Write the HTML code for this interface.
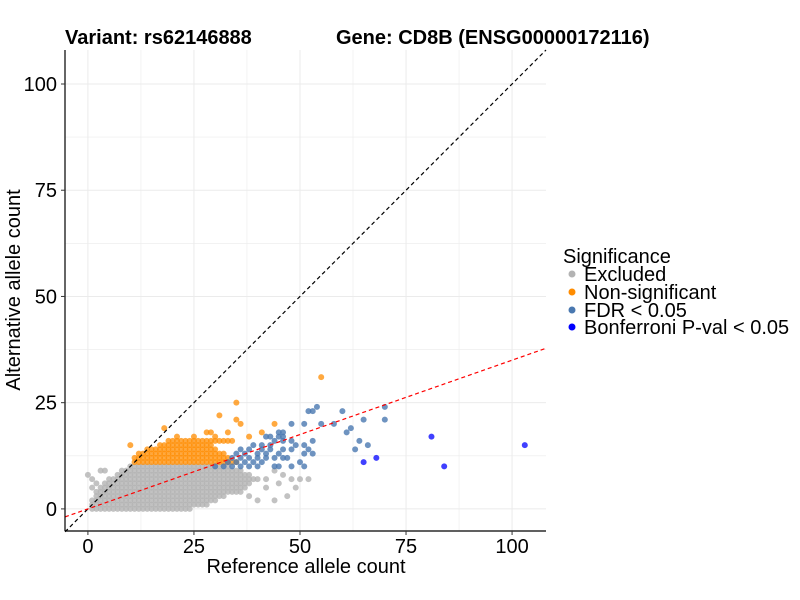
<!DOCTYPE html>
<html><head><meta charset="utf-8"><style>
body{margin:0;background:#fff;}
svg{display:block;font-family:"Liberation Sans",Arial,sans-serif;}
</style></head><body>
<svg id="chart" width="800" height="600">
<text x="65" y="44" font-size="20" font-weight="bold" fill="#000">Variant: rs62146888</text>
<text x="336" y="44" font-size="20" font-weight="bold" fill="#000">Gene: CD8B (ENSG00000172116)</text>
<g id="grid"></g>
<g id="points"></g>
<g id="lines"></g>
<g id="axes"></g>
<text x="306" y="573" font-size="20" text-anchor="middle" fill="#000">Reference allele count</text>
<text transform="translate(20,290) rotate(-90)" font-size="20" text-anchor="middle" fill="#000">Alternative allele count</text>
<g font-size="20">
<text x="563" y="263" fill="#000">Significance</text>
<g><circle cx="572" cy="274" r="3.5" fill="#b3b3b3"/><text x="584" y="281">Excluded</text></g>
<g><circle cx="572" cy="292" r="3.5" fill="#ff8c00"/><text x="584" y="299">Non-significant</text></g>
<g><circle cx="572" cy="310" r="3.5" fill="#4a78b0"/><text x="584" y="317">FDR &lt; 0.05</text></g>
<g><circle cx="572" cy="327" r="3.5" fill="#0000ff"/><text x="584" y="334">Bonferroni P-val &lt; 0.05</text></g>
</g>
</svg>
<script>
const xTicks=[0,25,50,75,100];
const yTicks=[0,25,50,75,100];
// grey band rows: [alt, minRef, maxRef]
const excludedRows=[[0,1,24],[1,1,28],[2,1,30],[3,2,32],[4,2,35],[5,3,37],[6,4,38],[7,5,40],[8,7,38],[9,8,36],[10,10,33]];
const excludedExtra=[[0,8],[1,7],[2,6],[3,9],[1,5],[4,9],[36,4],[38,3],[40,2],[42,5],[44,2],[42,7],[44,9],[46,8],[48,7],[50,7],[52,7],[47,3],[49,5],[45,6]];
// orange band rows
const nonsigRows=[[11,11,35],[12,11,33],[13,12,32],[14,14,30],[15,17,29],[16,19,34]];
const nonsigExtra=[[10,15],[18,19],[21,17],[25,17],[28,18],[29,18],[31,22],[35,25],[35,21],[36,20],[44,20],[41,18],[55,31],[33,18],[30,17],[38,17]];
const fdrPts=[[52,23],[53,23],[54,24],[60,23],[70,24],[48,20],[51,20],[55,20],[58,20],[65,21],[70,21],[61,18],[62,19],[45,18],[46,18],[46,17],[53,16],[51,15],[64,16],[66,15],[63,14],[48,14],[49,15],[52,14],[51,13],[53,13],[48,10],[51,10],
[30,10],[32,10],[34,10],[36,10],[38,10],[40,10],[44,10],[45,10],[33,11],[35,11],[37,11],[39,11],[41,11],[34,12],[36,12],[38,12],[40,12],[42,12],[44,12],[46,12],[35,13],[37,13],[40,13],[42,13],[45,13],[36,14],[38,14],[41,14],[43,14],[39,15],[41,15],[43,15],[44,16],[46,16],[42,17],[43,17],[45,17],[48,16],[50,11],[47,12],[46,14]];
const bonfPts=[[81,17],[103,15],[65,11],[68,12],[84,10]];
const regSlope=0.35, regIntercept=0;

const X0=-5.4,X1=108,Y0=-5.2,Y1=108;
const L=65,R=546,T=50,B=531;
const sx=v=>L+(v-X0)/(X1-X0)*(R-L);
const sy=v=>B-(v-Y0)/(Y1-Y0)*(B-T);
const NS="http://www.w3.org/2000/svg";
function mk(tag,attrs,parent){const e=document.createElementNS(NS,tag);for(const k in attrs)e.setAttribute(k,attrs[k]);parent.appendChild(e);return e;}
const grid=document.getElementById('grid'),pts=document.getElementById('points'),lines=document.getElementById('lines'),axes=document.getElementById('axes');
for(let v=-12.5;v<=112.5;v+=12.5){
 if(v>=X0&&v<=X1){const l=mk('line',{x1:sx(v),x2:sx(v),y1:T,y2:B,stroke:'#ebebeb','stroke-width':v%25===0?1:0.6},grid);}
 if(v>=Y0&&v<=Y1){const l=mk('line',{x1:L,x2:R,y1:sy(v),y2:sy(v),stroke:'#ebebeb','stroke-width':v%25===0?1:0.6},grid);}
}
function dot(x,y,c,name,op){const e=mk('circle',{cx:sx(x),cy:sy(y),r:3,fill:c,'fill-opacity':op},pts);

}
excludedRows.forEach(([a,mn,mx])=>{for(let r=mn;r<=mx;r++)dot(r,a,'#b3b3b3','point-excluded',0.8);});
excludedExtra.forEach(([r,a])=>dot(r,a,'#b3b3b3','point-excluded',0.8));
nonsigRows.forEach(([a,mn,mx])=>{for(let r=mn;r<=mx;r++)dot(r,a,'#ff8c00','point-nonsignificant',0.75);});
nonsigExtra.forEach(([r,a])=>dot(r,a,'#ff8c00','point-nonsignificant',0.75));
fdrPts.forEach(([r,a])=>dot(r,a,'#4a78b0','point-fdr',0.8));
bonfPts.forEach(([r,a])=>dot(r,a,'#0000ff','point-bonferroni',0.75));
const d1=mk('line',{x1:sx(X0),y1:sy(X0),x2:sx(X1),y2:sy(X1),stroke:'#000','stroke-dasharray':'4,3','stroke-width':1.2},lines);


const d2=mk('line',{x1:sx(X0),y1:sy(regIntercept+regSlope*X0),x2:sx(X1),y2:sy(regIntercept+regSlope*X1),stroke:'#ff0000','stroke-dasharray':'4,3','stroke-width':1.2},lines);


mk('line',{x1:L,x2:L,y1:T,y2:B,stroke:'#000','stroke-width':1.2},axes);
mk('line',{x1:L,x2:R,y1:B,y2:B,stroke:'#000','stroke-width':1.2},axes);
xTicks.forEach(v=>{mk('line',{x1:sx(v),x2:sx(v),y1:B,y2:B+4,stroke:'#333'},axes);
const t=mk('text',{x:sx(v),y:B+22,'font-size':20,'text-anchor':'middle',fill:'#000'},axes);t.textContent=v;

});
yTicks.forEach(v=>{mk('line',{x1:L-4,x2:L,y1:sy(v),y2:sy(v),stroke:'#333'},axes);
const t=mk('text',{x:L-8,y:sy(v)+7,'font-size':20,'text-anchor':'end',fill:'#000'},axes);t.textContent=v;

});
</script>
</body></html>
